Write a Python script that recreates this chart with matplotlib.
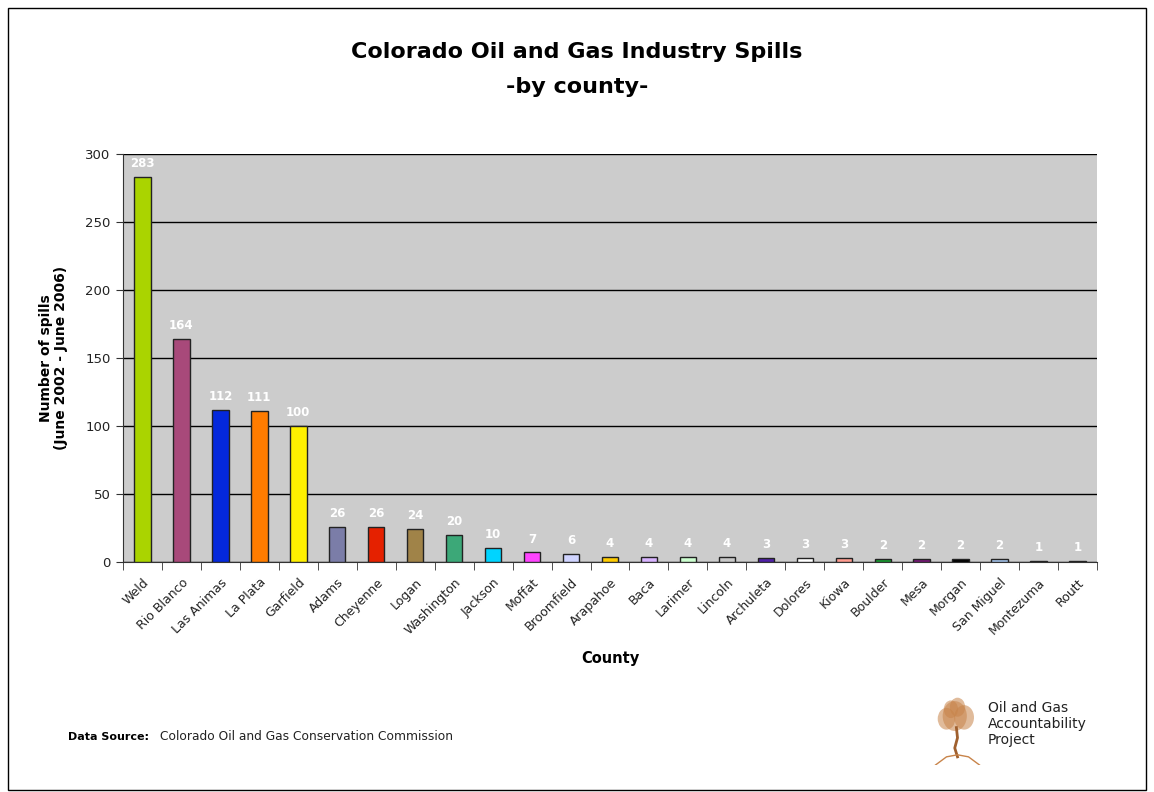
import matplotlib
matplotlib.use("Agg")
import matplotlib.pyplot as plt
from matplotlib.patches import Rectangle

counties = ["Weld", "Rio Blanco", "Las Animas", "La Plata", "Garfield", "Adams",
            "Cheyenne", "Logan", "Washington", "Jackson", "Moffat", "Broomfield",
            "Arapahoe", "Baca", "Larimer", "Lincoln", "Archuleta", "Dolores",
            "Kiowa", "Boulder", "Mesa", "Morgan", "San Miguel", "Montezuma", "Routt"]
spills = [283, 164, 112, 111, 100, 26, 26, 24, 20, 10, 7, 6, 4, 4, 4, 4, 3, 3, 3,
          2, 2, 2, 2, 1, 1]
colors = ["#aad400", "#a8497a", "#0428dc", "#ff7c00", "#fff000", "#7b7da8",
          "#e52100", "#a08348", "#3ca878", "#00d4ff", "#ff44ff", "#d0d4ff",
          "#ffcc00", "#d8b4ff", "#ccffd0", "#c8c8c8", "#5020a8", "#ffffff",
          "#ff9c90", "#18a030", "#7a1878", "#000000", "#a8c8f0", "#502030", "#103020"]
yticks = [0, 50, 100, 150, 200, 250, 300]

plt.rcParams["font.family"] = ["DejaVu Sans"]

W, H = 1154, 792
fig = plt.figure(figsize=(W / 100, H / 100), dpi=100)
fig.patch.set_facecolor("white")

# outer frame
fig.patches.append(Rectangle((8 / W, 2 / H), 1138 / W, 782 / H, transform=fig.transFigure,
                             fill=False, edgecolor="black", linewidth=1.0))

ax = fig.add_axes([123 / W, 1 - 562 / H, (1097 - 123) / W, (562 - 154) / H])
ax.set_facecolor("#cccccc")
n = len(counties)
x = list(range(n))
ax.bar(x, spills, width=0.42, color=colors, edgecolor="#222222", linewidth=1.0, zorder=3)
ax.set_xlim(-0.5, n - 0.5)
ax.set_ylim(0, 300)
ax.set_yticks(yticks)
ax.set_yticklabels([str(v) for v in yticks], fontsize=9.5, color="#222222")
ax.yaxis.grid(True, color="black", linewidth=1.0, zorder=1)
ax.set_axisbelow(True)

for spine in ("top", "right"):
    ax.spines[spine].set_visible(False)
ax.spines["left"].set_color("#333333")
ax.spines["bottom"].set_color("#333333")

# category labels and boundary ticks
ax.set_xticks(x)
ax.set_xticklabels(counties, rotation=45, ha="right", rotation_mode="anchor",
                   fontsize=9, color="#222222")
ax.tick_params(axis="x", which="major", length=0, pad=10)
ax.set_xticks([i - 0.5 for i in range(n + 1)], minor=True)
ax.tick_params(axis="x", which="minor", length=6, direction="out", color="#333333")
ax.tick_params(axis="y", length=5, direction="out", color="#333333", pad=4)

for xi, v in zip(x, spills):
    ax.annotate(str(v), (xi, v), xytext=(0, 5), textcoords="offset points",
                ha="center", va="bottom", color="white", fontsize=8.5,
                fontweight="bold", zorder=4)

ax.set_xlabel("County", fontsize=10.5, fontweight="bold", labelpad=10)
ax.set_ylabel("Number of spills\n(June 2002 - June 2006)", fontsize=10,
              fontweight="bold", labelpad=12, linespacing=1.1)

fig.text(0.5, 1 - 52 / H, "Colorado Oil and Gas Industry Spills", ha="center",
         va="center", fontsize=16, fontweight="bold")
fig.text(0.5, 1 - 87 / H, "-by county-", ha="center", va="center", fontsize=16,
         fontweight="bold")

fig.text(68 / W, 1 - 737 / H, "Data Source:", fontsize=8, fontweight="bold",
         va="center", ha="left")
fig.text(160 / W, 1 - 737 / H, "Colorado Oil and Gas Conservation Commission",
         fontsize=8.8, va="center", ha="left", color="#222222")

fig.text(988 / W, 1 - 724 / H, "Oil and Gas\nAccountability\nProject", fontsize=10,
         va="center", ha="left", color="#222222", linespacing=1.15)

# simple tree mark beside the project name
lax = fig.add_axes([930 / W, 1 - 765 / H, 55 / W, 68 / H])
lax.set_xlim(0, 1)
lax.set_ylim(0, 1)
lax.axis("off")
tree = "#c8844a"
for cx, cy, r in [(0.45, 0.72, 0.22), (0.3, 0.68, 0.16), (0.62, 0.7, 0.18),
                  (0.5, 0.85, 0.14), (0.38, 0.82, 0.13)]:
    lax.add_patch(plt.Circle((cx, cy), r, color=tree, alpha=0.55, lw=0))
lax.plot([0.48, 0.5, 0.45, 0.5], [0.55, 0.4, 0.25, 0.12], color="#a0602e", lw=2)
lax.plot([0.1, 0.3, 0.5, 0.7, 0.9], [0.0, 0.12, 0.15, 0.12, 0.0], color="#c8844a", lw=1)

fig.savefig("out.png", dpi=100)
